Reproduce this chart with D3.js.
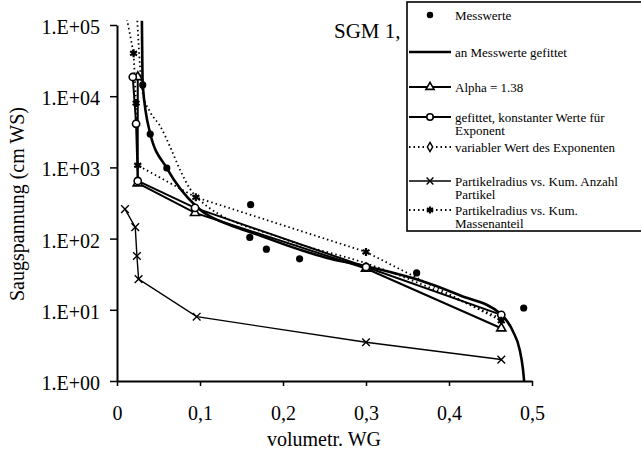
<!DOCTYPE html>
<html lang="de">
<head>
<meta charset="UTF-8">
<title>SGM 1 Saugspannung</title>
<script src="https://d3js.org/d3.v7.min.js"></script>
<style>
  body { margin: 0; background: #fff; }
  svg text { font-family: "Liberation Serif", "Times New Roman", serif; fill: #000; }
</style>
</head>
<body>
<div id="chart"></div>
<script>
// ticks
const xTicks = [0, 0.1, 0.2, 0.3, 0.4, 0.5];
const yTicks = [1, 10, 100, 1000, 10000, 100000];

// Messwerte
const messX = [0.031, 0.040, 0.060, 0.161, 0.160, 0.180, 0.220, 0.361, 0.490];
const messY = [14400, 2940, 980, 300, 104, 71, 52, 33, 10.6];

// an Messwerte gefittet
const fitX = [0.0300, 0.031, 0.040, 0.060, 0.096, 0.136, 0.160, 0.220, 0.257, 0.300, 0.360, 0.413, 0.463, 0.477, 0.485, 0.489, 0.4905];
const fitY = [115000, 14400, 3000, 980, 280, 155, 124, 70, 52, 41, 27, 16, 8.6, 5, 2.8, 1.5, 1.0];

// Alpha = 1.38
const alphaX = [0.025, 0.025, 0.094, 0.300, 0.463];
const alphaY = [18600, 600, 230, 38, 5.5];

// gefittet, konstanter Werte fuer Exponent
const konstX = [0.019, 0.023, 0.025, 0.094, 0.300, 0.463];
const konstY = [18600, 4100, 645, 270, 40, 8.5];

// variabler Wert des Exponenten (Marker nur am Ende sichtbar)
const varX = [0.0245, 0.0277, 0.031, 0.040, 0.052, 0.064, 0.076, 0.088, 0.096, 0.200, 0.300, 0.463];
const varY = [115000, 26000, 11000, 6000, 3800, 1950, 920, 500, 380, 100, 45, 7.5];
const varMarkX = [0.463];

// Partikelradius vs. Kum. Anzahl Partikel
const anzX = [0.0096, 0.022, 0.024, 0.026, 0.096, 0.300, 0.463];
const anzY = [260, 145, 57, 27, 8.0, 3.5, 2.0];

// Partikelradius vs. Kum. Massenanteil
const masX = [0.011, 0.020, 0.023, 0.025, 0.095, 0.300, 0.463];
const masY = [140000, 40000, 8000, 1070, 380, 65, 7];

const width = 641, height = 452;
const svg = d3.select("#chart").append("svg")
  .attr("width", width).attr("height", height);

const x = d3.scaleLinear().domain([0, 0.5]).range([117, 532]);
const y = d3.scaleLog().domain([1, 100000]).range([381, 25]);

svg.append("clipPath").attr("id", "plot")
  .append("rect").attr("x", 110).attr("y", 20).attr("width", 430).attr("height", 362);

// axes
const yAxis = svg.append("g")
  .attr("transform", `translate(${x(0)},0)`)
  .call(d3.axisLeft(y).tickValues(yTicks)
    .tickFormat(d => "1.E+0" + Math.round(Math.log10(d)))
    .tickSize(7).tickSizeOuter(0).tickPadding(10));
yAxis.selectAll("text").style("font-size", "20px").attr("dy", "0.42em");

const xAxis = svg.append("g")
  .attr("transform", `translate(0,${y(1)})`)
  .call(d3.axisBottom(x).tickValues(xTicks)
    .tickFormat(d => d === 0 ? "0" : d3.format(".1f")(d).replace(".", ","))
    .tickSize(5).tickSizeOuter(0).tickPadding(20));
xAxis.selectAll("text").style("font-size", "20px");

svg.selectAll(".domain").attr("stroke-width", 2);
svg.selectAll(".tick line").attr("stroke-width", 1.5);

svg.append("text")
  .attr("x", 324).attr("y", 446)
  .attr("text-anchor", "middle")
  .style("font-size", "20px")
  .text("volumetr. WG");

svg.append("text")
  .attr("transform", "translate(24,204) rotate(-90)")
  .attr("text-anchor", "middle")
  .style("font-size", "20px")
  .text("Saugspannung (cm WS)");

svg.append("text")
  .attr("x", 334).attr("y", 38)
  .style("font-size", "21px")
  .text("SGM 1,");

// series
const plot = svg.append("g").attr("clip-path", "url(#plot)");
const zip = (xs, ys) => xs.map((v, i) => [v, ys[i]]);

const lineLin = d3.line().x(d => x(d[0])).y(d => y(d[1]));
const lineSmooth = d3.line().x(d => x(d[0])).y(d => y(d[1])).curve(d3.curveMonotoneX);

const series = [
  { data: zip(varX, varY), gen: lineSmooth, w: 1.8, dash: "1.5,3", sym: "diamond", only: varMarkX },
  { data: zip(anzX, anzY), gen: lineLin, w: 1.4, dash: null, sym: "x" },
  { data: zip(alphaX, alphaY), gen: lineLin, w: 2, dash: null, sym: "triangle" },
  { data: zip(konstX, konstY), gen: lineLin, w: 2, dash: null, sym: "circle" },
  { data: zip(masX, masY), gen: lineLin, w: 1.8, dash: "1.5,3", sym: "star" },
  { data: zip(fitX, fitY), gen: lineSmooth, w: 2.6, dash: null, sym: null }
];

function drawSymbol(g, type, cx, cy, scale) {
  const s = scale || 1;
  if (type === "x") {
    g.append("path").attr("transform", `translate(${cx},${cy})`)
      .attr("d", d3.symbol().type(d3.symbolTimes || d3.symbolCross).size(40 * s)())
      .attr("fill", "none").attr("stroke", "#000").attr("stroke-width", 1.4);
  } else if (type === "star") {
    g.append("path").attr("transform", `translate(${cx},${cy})`)
      .attr("d", d3.symbol().type(d3.symbolAsterisk || d3.symbolCross).size(45 * s)())
      .attr("fill", "#000").attr("stroke", "#000").attr("stroke-width", 2.2);
  } else if (type === "diamond") {
    g.append("path").attr("transform", `translate(${cx},${cy})`)
      .attr("d", d3.symbol().type(d3.symbolDiamond).size(30 * s)())
      .attr("fill", "#fff").attr("stroke", "#000").attr("stroke-width", 1.5);
  } else if (type === "triangle") {
    g.append("path").attr("transform", `translate(${cx},${cy})`)
      .attr("d", d3.symbol().type(d3.symbolTriangle).size(36 * s)())
      .attr("fill", "#fff").attr("stroke", "#000").attr("stroke-width", 1.6);
  } else if (type === "circle") {
    g.append("circle").attr("cx", cx).attr("cy", cy).attr("r", 3.6 * Math.sqrt(s))
      .attr("fill", "#fff").attr("stroke", "#000").attr("stroke-width", 1.6);
  } else if (type === "dot") {
    g.append("circle").attr("cx", cx).attr("cy", cy).attr("r", 3.6 * Math.sqrt(s))
      .attr("fill", "#000");
  }
}

series.forEach(s => {
  plot.append("path")
    .datum(s.data)
    .attr("d", s.gen)
    .attr("fill", "none")
    .attr("stroke", "#000")
    .attr("stroke-width", s.w)
    .attr("stroke-dasharray", s.dash);
});

series.forEach(s => {
  if (!s.sym) return;
  s.data.filter(d => !s.only || s.only.includes(d[0]))
    .forEach(d => drawSymbol(plot, s.sym, x(d[0]), y(d[1])));
});

zip(messX, messY).forEach(d => drawSymbol(plot, "dot", x(d[0]), y(d[1])));

// legend
const legend = svg.append("g");
legend.append("rect")
  .attr("x", 407).attr("y", 2).attr("width", 240).attr("height", 229)
  .attr("fill", "#fff").attr("stroke", "#000").attr("stroke-width", 1.6);

const legItems = [
  { y: 15, sym: "dot", line: false, w: 0, dash: null, lines: ["Messwerte"] },
  { y: 52, sym: null, line: true, w: 2.6, dash: null, lines: ["an Messwerte gefittet"] },
  { y: 87, sym: "triangle", line: true, w: 2, dash: null, lines: ["Alpha = 1.38"] },
  { y: 117, sym: "circle", line: true, w: 2, dash: null, lines: ["gefittet, konstanter Werte für", "Exponent"] },
  { y: 147, sym: "diamond", line: true, w: 1.8, dash: "1.5,3", lines: ["variabler Wert des Exponenten"] },
  { y: 181, sym: "x", line: true, w: 1.4, dash: null, lines: ["Partikelradius vs. Kum. Anzahl", "Partikel"] },
  { y: 210, sym: "star", line: true, w: 1.8, dash: "1.5,3", lines: ["Partikelradius vs. Kum.", "Massenanteil"] }
];

legItems.forEach(it => {
  if (it.line) {
    legend.append("line")
      .attr("x1", 409).attr("x2", 451).attr("y1", it.y).attr("y2", it.y)
      .attr("stroke", "#000").attr("stroke-width", it.w)
      .attr("stroke-dasharray", it.dash);
  }
  if (it.sym) drawSymbol(legend, it.sym, 430, it.y, 0.8);
  it.lines.forEach((t, i) => {
    legend.append("text")
      .attr("x", 455).attr("y", it.y + 4.5 + i * 13.5)
      .style("font-size", "13px")
      .text(t);
  });
});
</script>
</body>
</html>
